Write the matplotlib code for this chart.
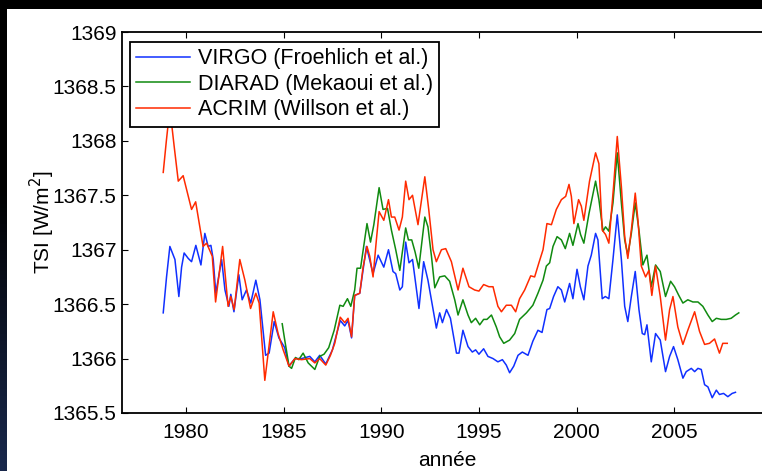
import numpy as np
import matplotlib.pyplot as plt
from matplotlib.patches import Rectangle

plt.rcParams['font.family'] = ['Liberation Sans', 'DejaVu Sans']

# VIRGO (Froehlich et al.)
virgo_year = [1978.84, 1979.01, 1979.18, 1979.44, 1979.64, 1979.78, 1979.91, 1980.12, 1980.29, 1980.51,
              1980.77, 1980.97, 1981.14, 1981.28, 1981.40, 1981.53, 1981.83, 1982.00, 1982.20, 1982.30,
              1982.46, 1982.71, 1982.88, 1983.10, 1983.32, 1983.58, 1983.79, 1984.08, 1984.26, 1984.52,
              1984.76, 1985.06, 1985.27, 1985.58, 1985.92, 1986.34, 1986.60, 1986.85, 1987.16, 1987.50,
              1987.90, 1988.13, 1988.30, 1988.48, 1988.64, 1988.90, 1989.24, 1989.58, 1989.84, 1990.13,
              1990.37, 1990.60, 1990.74, 1990.95, 1991.08, 1991.25, 1991.42, 1991.60, 1991.93, 1992.17,
              1992.39, 1992.82, 1992.99, 1993.13, 1993.34, 1993.54, 1993.85, 1993.98, 1994.18, 1994.44,
              1994.66, 1994.83, 1995.00, 1995.24, 1995.46, 1995.72, 1995.97, 1996.20, 1996.40, 1996.57,
              1996.78, 1997.00, 1997.22, 1997.51, 1997.76, 1998.02, 1998.23, 1998.48, 1998.62, 1998.82,
              1999.04, 1999.22, 1999.39, 1999.64, 1999.81, 2000.02, 2000.19, 2000.37, 2000.58, 2000.75,
              2000.97, 2001.09, 2001.31, 2001.47, 2001.65, 2001.86, 2002.08, 2002.29, 2002.46, 2002.62,
              2002.80, 2003.00, 2003.19, 2003.36, 2003.48, 2003.60, 2003.82, 2004.04, 2004.28, 2004.55,
              2004.76, 2004.96, 2005.18, 2005.44, 2005.61, 2005.87, 2006.04, 2006.21, 2006.38, 2006.55,
              2006.72, 2006.94, 2007.15, 2007.31, 2007.52, 2007.74, 2007.96, 2008.13]
virgo_tsi = [1366.42, 1366.75, 1367.03, 1366.91, 1366.57, 1366.84, 1366.97, 1366.92, 1366.89, 1367.04,
             1366.86, 1367.15, 1367.03, 1367.04, 1366.91, 1366.60, 1366.91, 1366.63, 1366.48, 1366.59,
             1366.43, 1366.77, 1366.54, 1366.63, 1366.51, 1366.72, 1366.54, 1366.03, 1366.05, 1366.34,
             1366.19, 1366.10, 1365.93, 1366.00, 1366.00, 1366.02, 1365.97, 1366.03, 1365.95, 1366.08,
             1366.35, 1366.30, 1366.35, 1366.19, 1366.58, 1366.60, 1367.03, 1366.78, 1366.95, 1366.84,
             1367.00, 1366.80, 1366.78, 1366.63, 1366.66, 1367.07, 1366.88, 1366.91, 1366.46, 1366.89,
             1366.72, 1366.28, 1366.42, 1366.33, 1366.45, 1366.37, 1366.05, 1366.05, 1366.26, 1366.11,
             1366.06, 1366.08, 1366.04, 1366.09, 1366.02, 1366.00, 1365.97, 1365.99, 1365.94, 1365.87,
             1365.93, 1366.03, 1366.06, 1366.03, 1366.16, 1366.26, 1366.24, 1366.45, 1366.46, 1366.57,
             1366.66, 1366.63, 1366.52, 1366.69, 1366.55, 1366.82, 1366.66, 1366.54, 1366.85, 1366.95,
             1367.15, 1367.09, 1366.55, 1366.57, 1366.55, 1366.91, 1367.32, 1366.91, 1366.48, 1366.34,
             1366.57, 1366.80, 1366.45, 1366.23, 1366.22, 1366.31, 1365.97, 1366.23, 1366.17, 1365.88,
             1366.02, 1366.11, 1365.99, 1365.82, 1365.88, 1365.91, 1365.88, 1365.91, 1365.90, 1365.76,
             1365.74, 1365.64, 1365.71, 1365.67, 1365.68, 1365.65, 1365.68, 1365.69]

# DIARAD (Mekaoui et al.)
diarad_year = [1984.93, 1985.06, 1985.28, 1985.41, 1985.61, 1985.78, 1986.00, 1986.26, 1986.60, 1986.85,
               1987.07, 1987.31, 1987.59, 1987.88, 1988.05, 1988.27, 1988.44, 1988.64, 1988.76, 1988.94,
               1989.27, 1989.45, 1989.62, 1989.89, 1990.09, 1990.32, 1990.52, 1990.74, 1990.95, 1991.25,
               1991.39, 1991.56, 1991.73, 1991.92, 1992.23, 1992.39, 1992.57, 1992.74, 1992.99, 1993.25,
               1993.50, 1993.76, 1993.93, 1994.18, 1994.44, 1994.61, 1994.83, 1995.04, 1995.24, 1995.41,
               1995.64, 1995.89, 1996.06, 1996.27, 1996.57, 1996.83, 1997.08, 1997.43, 1997.76, 1998.02,
               1998.28, 1998.45, 1998.62, 1998.79, 1999.00, 1999.22, 1999.42, 1999.64, 1999.81, 2000.07,
               2000.20, 2000.37, 2000.63, 2000.97, 2001.14, 2001.35, 2001.48, 2001.65, 2001.86, 2002.08,
               2002.29, 2002.46, 2002.62, 2002.80, 2003.00, 2003.19, 2003.39, 2003.60, 2003.82, 2004.04,
               2004.28, 2004.55, 2004.81, 2005.01, 2005.23, 2005.44, 2005.69, 2005.95, 2006.21, 2006.46,
               2006.72, 2006.94, 2007.15, 2007.40, 2007.66, 2007.91, 2008.13, 2008.30]
diarad_tsi = [1366.32, 1366.17, 1365.93, 1365.91, 1366.01, 1365.99, 1366.05, 1365.96, 1365.90, 1366.02,
              1366.04, 1366.10, 1366.26, 1366.49, 1366.48, 1366.55, 1366.48, 1366.63, 1366.83, 1366.83,
              1367.24, 1367.07, 1367.23, 1367.57, 1367.37, 1367.38, 1367.18, 1367.00, 1366.81, 1367.20,
              1367.09, 1367.09, 1366.98, 1366.83, 1367.30, 1367.21, 1366.94, 1366.65, 1366.75, 1366.76,
              1366.71, 1366.54, 1366.40, 1366.54, 1366.40, 1366.33, 1366.37, 1366.31, 1366.36, 1366.36,
              1366.40, 1366.29, 1366.20, 1366.14, 1366.17, 1366.23, 1366.36, 1366.42, 1366.49, 1366.60,
              1366.72, 1366.85, 1366.88, 1367.03, 1367.12, 1367.09, 1367.01, 1367.15, 1367.04, 1367.24,
              1367.14, 1367.06, 1367.33, 1367.63, 1367.46, 1367.17, 1367.21, 1367.17, 1367.43, 1367.89,
              1367.43, 1367.09, 1366.95, 1367.15, 1367.43, 1367.18, 1366.86, 1366.95, 1366.66, 1366.86,
              1366.80, 1366.57, 1366.71, 1366.66, 1366.58, 1366.51, 1366.54, 1366.52, 1366.52, 1366.48,
              1366.40, 1366.34, 1366.37, 1366.36, 1366.36, 1366.37, 1366.40, 1366.42]

# ACRIM (Willson et al.)
acrim_year = [1978.84, 1979.00, 1979.18, 1979.40, 1979.61, 1979.86, 1980.29, 1980.50, 1980.88, 1981.06,
              1981.35, 1981.52, 1981.88, 1982.16, 1982.30, 1982.47, 1982.76, 1983.02, 1983.31, 1983.58,
              1983.75, 1984.04, 1984.25, 1984.47, 1984.72, 1984.98, 1985.28, 1985.58, 1985.92, 1986.34,
              1986.60, 1986.85, 1987.16, 1987.40, 1987.62, 1987.90, 1988.13, 1988.30, 1988.48, 1988.64,
              1988.90, 1989.07, 1989.27, 1989.41, 1989.58, 1989.75, 1989.89, 1990.13, 1990.37, 1990.52,
              1990.69, 1990.91, 1991.08, 1991.25, 1991.42, 1991.60, 1991.88, 1992.23, 1992.43, 1992.65,
              1992.82, 1993.08, 1993.30, 1993.59, 1993.93, 1994.18, 1994.49, 1994.78, 1995.00, 1995.24,
              1995.51, 1995.72, 1995.97, 1996.15, 1996.40, 1996.66, 1996.88, 1997.08, 1997.34, 1997.65,
              1997.85, 1998.07, 1998.28, 1998.48, 1998.71, 1998.96, 1999.22, 1999.44, 1999.61, 1999.73,
              1999.86, 2000.10, 2000.24, 2000.37, 2000.66, 2000.97, 2001.14, 2001.31, 2001.48, 2001.65,
              2001.89, 2002.08, 2002.29, 2002.46, 2002.62, 2002.80, 2003.00, 2003.14, 2003.31, 2003.53,
              2003.70, 2003.85, 2004.04, 2004.28, 2004.55, 2004.76, 2004.93, 2005.18, 2005.44, 2005.69,
              2006.04, 2006.29, 2006.55, 2006.80, 2007.06, 2007.31, 2007.48, 2007.71]
acrim_tsi = [1367.71, 1368.00, 1368.30, 1367.95, 1367.63, 1367.68, 1367.37, 1367.44, 1367.03, 1367.06,
             1366.94, 1366.52, 1367.03, 1366.48, 1366.57, 1366.45, 1366.91, 1366.72, 1366.46, 1366.60,
             1366.51, 1365.80, 1366.11, 1366.43, 1366.23, 1366.08, 1365.93, 1366.00, 1365.99, 1366.00,
             1365.96, 1366.00, 1365.94, 1366.03, 1366.14, 1366.38, 1366.33, 1366.37, 1366.20, 1366.58,
             1366.60, 1366.84, 1367.03, 1366.94, 1366.75, 1367.09, 1367.35, 1367.27, 1367.46, 1367.30,
             1367.30, 1367.18, 1367.30, 1367.63, 1367.46, 1367.50, 1367.23, 1367.67, 1367.37, 1367.00,
             1366.89, 1367.00, 1367.01, 1366.89, 1366.63, 1366.83, 1366.66, 1366.63, 1366.62, 1366.68,
             1366.66, 1366.66, 1366.48, 1366.43, 1366.49, 1366.49, 1366.43, 1366.55, 1366.63, 1366.76,
             1366.75, 1366.88, 1367.00, 1367.24, 1367.23, 1367.37, 1367.46, 1367.49, 1367.60, 1367.49,
             1367.24, 1367.46, 1367.40, 1367.27, 1367.63, 1367.89, 1367.79, 1367.18, 1367.14, 1367.06,
             1367.58, 1368.04, 1367.58, 1367.12, 1366.92, 1367.18, 1367.52, 1367.27, 1366.85, 1366.75,
             1366.81, 1366.58, 1366.85, 1366.57, 1366.17, 1366.45, 1366.57, 1366.29, 1366.13, 1366.26,
             1366.43, 1366.25, 1366.13, 1366.14, 1366.18, 1366.05, 1366.14, 1366.14]

fig = plt.figure(figsize=(7.62, 4.71), dpi=100, facecolor='black')

# dark backdrop with a faint blue glow bottom-left, then the white page
bg = fig.add_axes([0, 0, 1, 1], zorder=-10)
gx, gy = np.meshgrid(np.linspace(0, 1, 200), np.linspace(0, 1, 120))
glow = np.clip(1 - np.hypot(gx / 0.15, (1 - gy) / 0.6), 0, 1)
rgb = np.zeros((120, 200, 3))
rgb[..., 0] = 0.10 * glow
rgb[..., 1] = 0.16 * glow
rgb[..., 2] = 0.30 * glow
bg.imshow(rgb, extent=[0, 1, 0, 1], aspect='auto')
bg.axis('off')
fig.patches.append(Rectangle((7 / 762, 0), 1, 1 - 9 / 471, transform=fig.transFigure,
                             facecolor='white', edgecolor='none', zorder=-5))

ax = fig.add_axes([122 / 762, 1 - 413 / 471, 650 / 762, 381 / 471])
ax.plot(virgo_year, virgo_tsi, color='#1030ff', lw=1.1, label='VIRGO (Froehlich et al.)')
ax.plot(diarad_year, diarad_tsi, color='#108a10', lw=1.1, label='DIARAD (Mekaoui et al.)')
ax.plot(acrim_year, acrim_tsi, color='#ff2a00', lw=1.1, label='ACRIM (Willson et al.)')

ax.set_xlim(1976.73, 2010)
ax.set_ylim(1365.5, 1369)
ax.set_xticks([1980, 1985, 1990, 1995, 2000, 2005])
ax.set_yticks([1365.5, 1366, 1366.5, 1367, 1367.5, 1368, 1368.5, 1369])
ax.set_yticklabels(['1365.5', '1366', '1366.5', '1367', '1367.5', '1368', '1368.5', '1369'])
ax.tick_params(direction='in', top=True, right=True, length=4, width=0.8, labelsize=15)
ax.tick_params(axis='x', pad=7)
ax.tick_params(axis='y', pad=4)
for s in ax.spines.values():
    s.set_linewidth(1.3)

ax.set_xlabel('année', fontsize=15, labelpad=7)
ax.set_ylabel('TSI [W/m$^2$]', fontsize=15, labelpad=-3)

leg = ax.legend(loc='upper left', bbox_to_anchor=(130 / 762, 1 - 42 / 471),
                bbox_transform=fig.transFigure, fontsize=15.5, fancybox=False,
                framealpha=1, edgecolor='black', borderaxespad=0, handlelength=2.5,
                borderpad=0.3, labelspacing=0.2, handletextpad=0.35)
leg.get_frame().set_linewidth(1.3)

fig.savefig('out.png', dpi=100, facecolor=fig.get_facecolor())
